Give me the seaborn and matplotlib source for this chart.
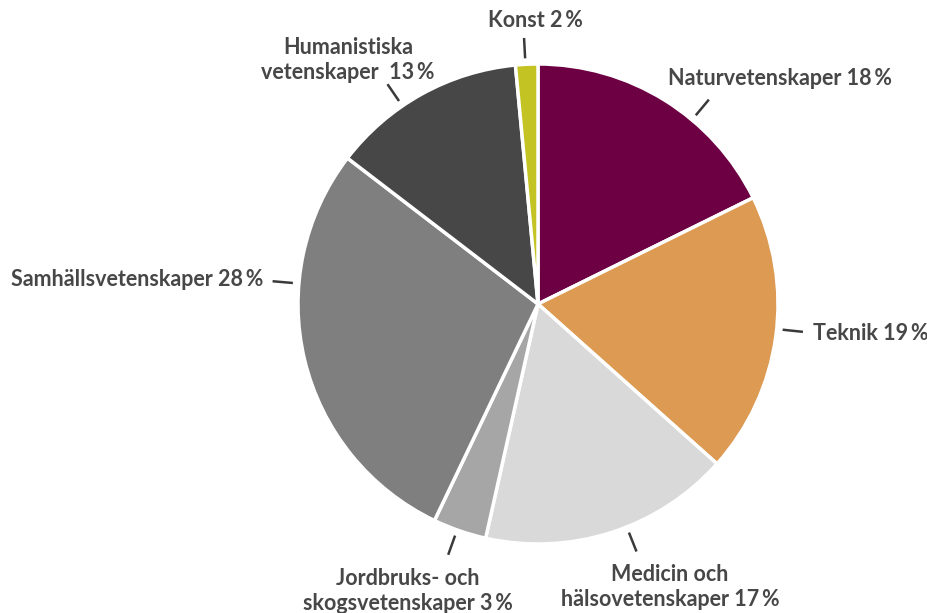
import matplotlib
matplotlib.use("Agg")
import matplotlib.pyplot as plt
import seaborn as sns
import numpy as np

# Data
labels = [
    "Naturvetenskaper 18\u2009%",
    "Teknik 19\u2009%",
    "Medicin och\nhälsovetenskaper 17\u2009%",
    "Jordbruks- och\nskogsvetenskaper 3\u2009%",
    "Samhällsvetenskaper 28\u2009%",
    "Humanistiska\nvetenskaper  13\u2009%",
    "Konst 2\u2009%",
]
shares = [17.7, 18.9, 16.9, 3.6, 28.3, 13.1, 1.5]
colors = ["#6d0042", "#dc9a52", "#d9d9d9", "#a6a6a6", "#7f7f7f", "#474747", "#c3c324"]

# label layout (screen pixels, y down) and leader angles (degrees clockwise from top)
leader_angles = [39.9, 96.0, 158.3, 199.7, 274.9, 325.6, 357.0]
label_pos = [(780, 78), (813, 333), (670, 587), (408, 591), (263, 280), (348, 60), (535, 20)]
label_ha = ["center", "left", "center", "center", "right", "center", "center"]

sns.set_theme(style="white")
plt.rcParams["font.family"] = ["Lato", "DejaVu Sans"]

W, H = 928, 613
cx, cy, R = 538, 304, 240
text_color = "#474747"

fig = plt.figure(figsize=(W / 100, H / 100), dpi=100)
ax = fig.add_axes([0, 0, 1, 1])

# y axis is inverted, so counterclock in data = clockwise on screen
ax.pie(shares, colors=colors, startangle=-90, counterclock=True,
       center=(cx, cy), radius=R, frame=True,
       wedgeprops=dict(edgecolor="white", linewidth=2.5))
ax.set_xlim(0, W)
ax.set_ylim(H, 0)  # pixel coords, y down
ax.set_aspect("equal")
ax.axis("off")

for lab, ang, (tx, ty), ha in zip(labels, leader_angles, label_pos, label_ha):
    a = np.deg2rad(ang)
    r1, r2 = R * 1.025, R * 1.11
    ax.plot([cx + r1 * np.sin(a), cx + r2 * np.sin(a)],
            [cy - r1 * np.cos(a), cy - r2 * np.cos(a)],
            color="#3a3a3a", lw=1.8, solid_capstyle="butt")
    ax.text(tx, ty, lab, ha=ha, va="center", fontsize=15.5, fontweight="bold",
            color=text_color, linespacing=1.2, multialignment="center")

fig.savefig("out.png", dpi=100)
